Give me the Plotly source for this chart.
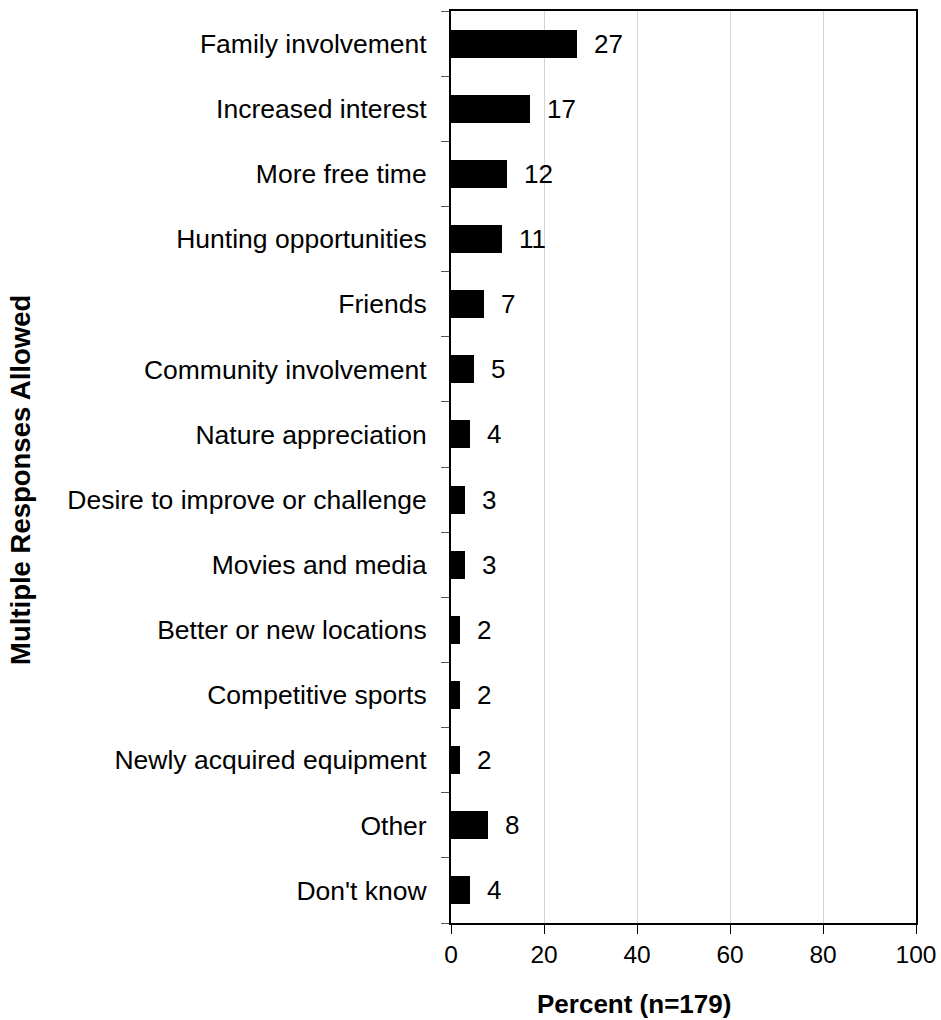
import plotly.graph_objects as go

categories = [
    "Family involvement",
    "Increased interest",
    "More free time",
    "Hunting opportunities",
    "Friends",
    "Community involvement",
    "Nature appreciation",
    "Desire to improve or challenge",
    "Movies and media",
    "Better or new locations",
    "Competitive sports",
    "Newly acquired equipment",
    "Other",
    "Don't know",
]
percents = [27, 17, 12, 11, 7, 5, 4, 3, 3, 2, 2, 2, 8, 4]
x_ticks = [0, 20, 40, 60, 80, 100]

FONT = "Liberation Sans, Arial, sans-serif"
n = len(categories)
positions = list(range(n))

fig = go.Figure()
fig.add_trace(go.Bar(
    x=percents,
    y=positions,
    orientation="h",
    width=0.43,
    marker=dict(color="black", line=dict(width=0)),
    showlegend=False,
))

# value labels to the right of each bar
for p, v in zip(positions, percents):
    fig.add_annotation(
        x=v, y=p, xref="x", yref="y",
        text=str(v), showarrow=False,
        xanchor="left", yanchor="middle", xshift=15,
        font=dict(family=FONT, size=26, color="black"),
    )

fig.update_layout(
    width=941, height=1020,
    margin=dict(l=451, r=25, t=11, b=97),
    plot_bgcolor="white", paper_bgcolor="white",
    font=dict(family=FONT, size=24, color="black"),
    bargap=0,
)

fig.update_xaxes(
    range=[0, 100], tickvals=x_ticks,
    showgrid=True, gridcolor="#d4d4d4", gridwidth=1,
    ticks="outside", ticklen=9, tickcolor="black", tickwidth=1,
    tickfont=dict(family=FONT, size=24.5),
    showline=True, linecolor="black", linewidth=2, mirror=True,
    zeroline=False, fixedrange=True, automargin=False,
)

# category labels; boundary ticks between categories as minor ticks
fig.update_yaxes(
    range=[n - 0.5, -0.5],
    tickmode="array", tickvals=positions, ticktext=categories,
    ticks="", ticklabelstandoff=17,
    tickfont=dict(family=FONT, size=26.5),
    showline=True, linecolor="black", linewidth=2, mirror=True,
    showgrid=False, zeroline=False, fixedrange=True, automargin=False,
    minor=dict(tickmode="array", tickvals=[i - 0.5 for i in range(n + 1)],
               ticks="outside", ticklen=8, tickcolor="#555555", tickwidth=1,
               showgrid=False),
)

fig.add_annotation(
    text="<b>Multiple Responses Allowed</b>",
    xref="paper", yref="paper", x=0, y=0.5,
    xanchor="center", yanchor="middle",
    xshift=-431, yshift=-13, textangle=-90, showarrow=False,
    font=dict(family=FONT, size=27.5, color="black"),
)
fig.add_annotation(
    text="<b>Percent (n=179)</b>",
    xref="paper", yref="paper", x=0.5, y=0,
    xanchor="center", yanchor="middle",
    xshift=-50, yshift=-81, showarrow=False,
    font=dict(family=FONT, size=26, color="black"),
)

fig.write_html("out.html")
